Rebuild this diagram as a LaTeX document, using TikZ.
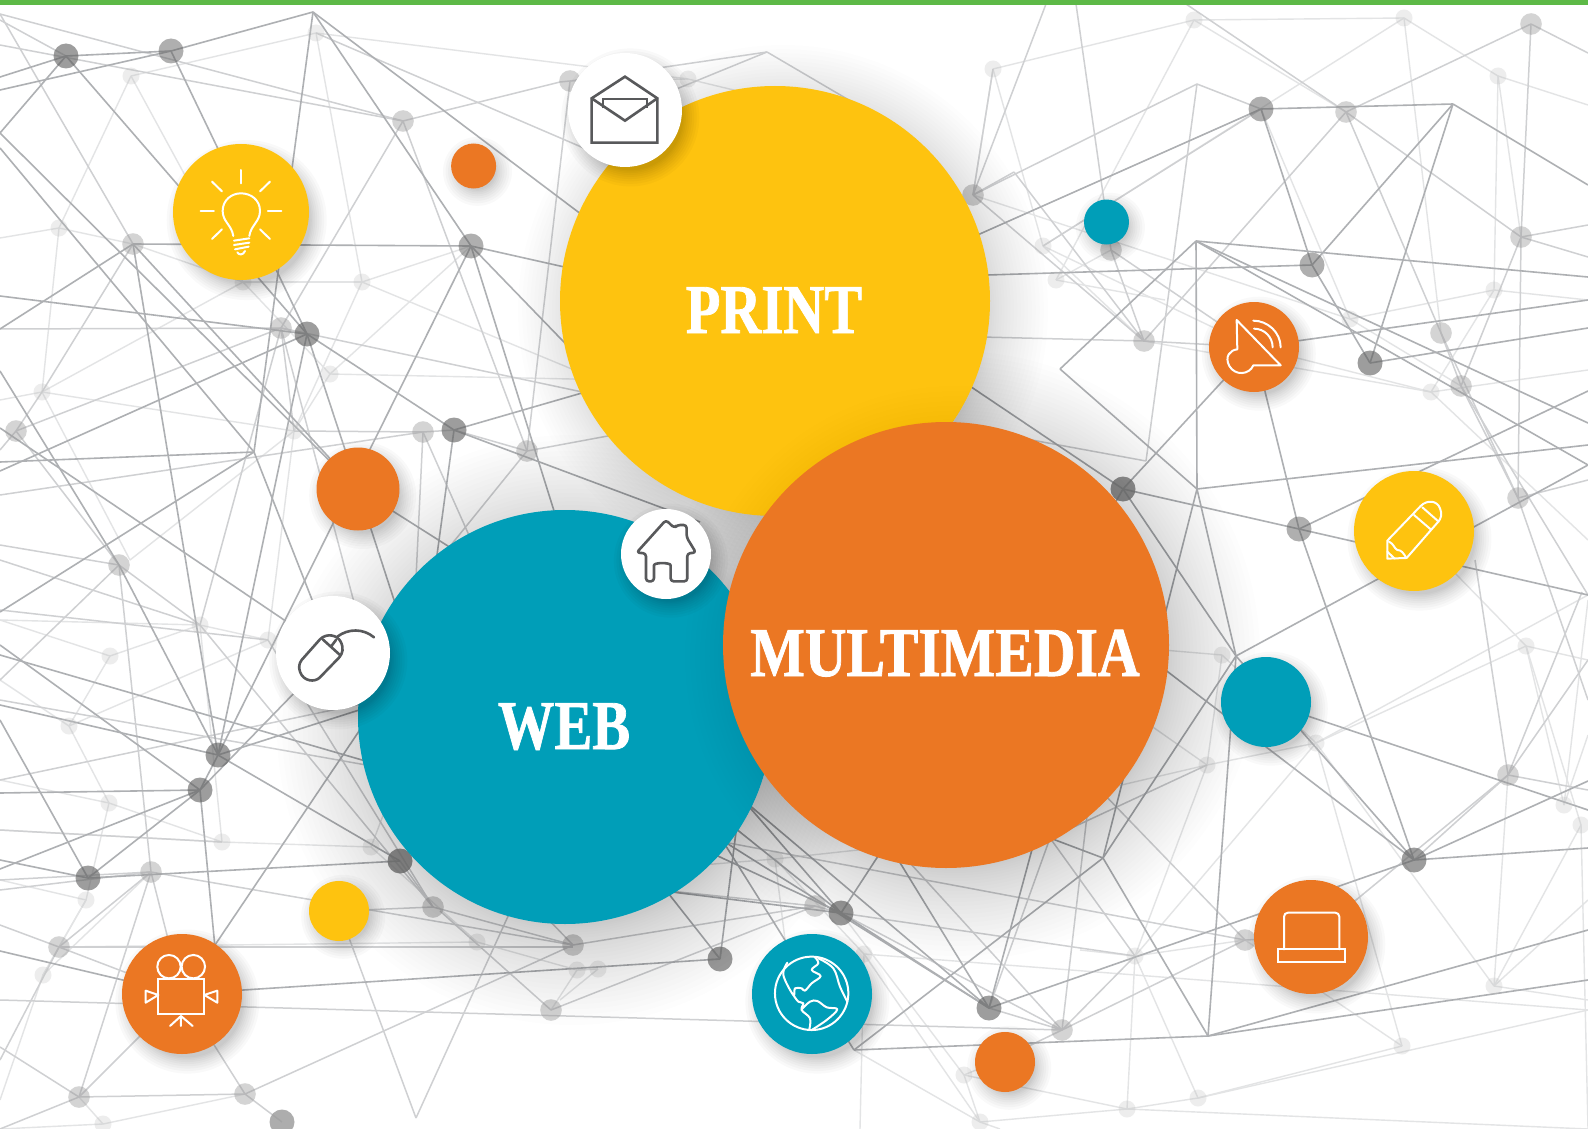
\documentclass[tikz,border=0pt]{standalone}
\usepackage{graphicx}
\usepackage{fontspec}
\setmainfont{Liberation Serif}
\newfontfamily\lblfont[BoldFont={Liberation Serif Bold},BoldFeatures={FakeBold=1.2}]{Liberation Serif}
\definecolor{cyel}{HTML}{FEC30F}
\definecolor{cora}{HTML}{EB7723}
\definecolor{ctea}{HTML}{009EB8}
\definecolor{cico}{HTML}{58595B}
\definecolor{cgrn}{HTML}{5DB947}
\definecolor{edgeD}{HTML}{AEB0B3}
\definecolor{edgeM}{HTML}{CFD0D2}
\definecolor{edgeL}{HTML}{E3E4E5}
\newcommand\softshadow[6]{%
  \foreach \i in {1,...,#5}{%
    \pgfmathsetmacro\rr{#3+#4*pow(\i/#5,1.4)}%
    \fill[black,opacity=#6] (#1,#2) circle (\rr pt);}}
\tikzset{
  bubble/.style={circle,inner sep=0pt,draw=none},
  labeltext/.style={text=white,font=\fontsize{70}{70}\lblfont\bfseries,inner sep=0pt},
  edgedark/.style={draw=edgeD,line width=1.6pt},
  edgemid/.style={draw=edgeM,line width=1.5pt},
  edgelight/.style={draw=edgeL,line width=1.4pt},
  dotdark/.style={fill=black!62,opacity=.62},
  dotmid/.style={fill=black!40,opacity=.42},
  dotlight/.style={fill=black!25,opacity=.28},
  iconw/.style={draw=white,line width=2pt,line join=round,line cap=round},
  icong/.style={draw=cico,line width=2.6pt,line join=round,line cap=round},
}
\begin{document}
\begin{tikzpicture}[x=1pt,y=-1pt]
\useasboundingbox (0,0) rectangle (1588,1129);
\fill[white] (0,0) rectangle (1588,1129);
\begin{scope}
\clip (0,0) rectangle (1588,1129);
% vertices of the network
\foreach \n/\x/\y in {
 da/66/56,db/171/51,ap/313/12,vl/133/244,dc/307/334,dd/471/246,de/454/430,vq/254/452,
 dr/218/755,ds/200/790,dt/88/878,dv/400/861,dO/841/913,dP/720/959,dQ/989/1008,dN/1414/860,
 dF/1261/109,dH/1312/265,dI/1370/363,dJ/1123/489,dK/1299/529,
 va/1453/104,vb/1196/241,vc/1060/369,vd/1197/489,ve/1236/656,vf/1103/858,vg/854/1050,vh/1208/1036,
 om/358/489,spk/1254/347,pen/1414/531,lap/1311/937,cam/182/994,mou/333/653,tl/1266/702,yel/339/911,
 e1/0/77,e2/0/90,e3/0/133,e4/0/148,e5/0/296,e6/0/329,e7/0/462,e8/0/471,e9/0/371,e10/0/428,
 e11/0/645,e12/0/655,e13/0/705,e14/0/793,e15/0/869,e16/0/720,e17/0/860,e18/0/951,e19/0/612,
 f1/1588/185,f2/1588/277,f3/1588/423,f4/1588/465,f5/1588/445,f6/1588/391,f7/1588/300,f8/1588/328,
 f9/1588/595,f10/1588/848,f11/1588/781,f12/1588/810,f13/1588/930,f14/1588/980,
 g1/610/236,g2/955/245,g3/600/275,g4/620/400,g40/1100/620,g5/560/530,g6/620/382,g7/700/522,g8/420/680,g9/470/560,
 g10/400/771,g11/400/697,g12/220/1000,g13/380/700,g15/940/366,g16/1060/600,g17/1050/838,g18/1040/820,
 g19/880/830,g20/726/780,g21/700/800,g22/640/820,g24/895/830,g25/640/888,g26/740/800,g27/650/870,
 g28/697/800,g29/658/800,g30/696/760,g31/955/276,
 m1/403/121,m3/281/328,m4/423/432,m5/527/451,m6/119/565,m7/16/431,m8/570/81,m9/973/195,m10/1144/341,
 m11/1111/250,dG/1346/112,mA/1531/24,mB/1521/237,mC/1441/333,mD/815/906,mE/1508/775,mF/1245/940,
 mG/1062/1030,mH/551/1010,mI/245/1094,mJ/79/1097,mK/59/947,mL/151/872,mM/573/945,mN/433/907,
 mP/1461/386,mQ/1518/498,mT/282/1122,
 w1/1197/84,w2/1014/172,w3/767/52,w6/1146/461,x1/416/1118,x2/520/890,
 r1/1588/53,r2/1588/225,r3/1588/257,r4/1588/480,r5/1588/790,r6/1582/592,r7/1588/700,
 t1/1183/2,t2/1046/4,t3/1076/4,
 h1/0/14,h2/560/82,h3/0/450,h4/0/545,h5/0/495,h6/414/620,h7/480/560,h8/430/571,h9/640/430,
 h11/600/155,h12/0/925,h13/573/947,h14/0/890,h15/0/1047,h16/573/945,h17/440/911,
 h18/1475/560,h19/1090/790,h20/900/335,h21/900/130,h24/950/425,h31/625/110,
 h25/0/1000,h26/0/1060,h27/0/560,h28/0/610,h29/0/700,h30/500/800,
 L1/131/76,L2/316/33,L3/59/228,L4/362/282,L5/42/392,L6/294/431,L7/330/374,L8/200/625,L9/110/656,
 L10/69/726,L11/268/640,L12/109/803,L13/222/842,L14/86/900,L15/43/975,L16/577/970,L17/598/969,
 L18/477/942,L19/371/847,L20/1194/20,L21/1404/18,L22/993/69,L23/1498/76,L24/1494/290,L25/1431/392,
 L26/1350/319,L27/1222/655,L28/1207/765,L29/1316/743,L30/1526/646,L31/1564/805,L32/1581/825,
 L33/1494/986,L34/1402/1046,L35/1198/1098,L36/1127/1109,L37/1135/956,L38/980/1122,L39/964/1075,
 L40/864/954,L41/775/859,L42/688/79,L43/103/1124,L44/1043/246,L45/1056/280,L0/243/282,
 n1/0/238,n2/0/400,n3/620/380,n4/620/389,n5/130/560,n6/190/560,n7/0/45,n8/0/20,n9/560/60,
 n10/1588/105,n11/1588/180,n12/1588/300,n13/1588/370,n14/1588/540,n15/1588/660,n16/1588/735,
 n17/1588/900,n18/1588/1000,n19/1588/1010,n20/1588/1129,n21/1163/650,n22/1100/790,n23/1080/950,
 n24/0/780,n25/0/830,n26/0/880,n27/0/1100,n28/0/1129,n29/0/620,n30/0/680,n31/1100/690,n32/1000/1060,
 n33/1178/1125,n34/860/1129,n35/1000/1129,n36/560/1000,n37/790/980,n38/950/840,n39/640/870,n40/1588/600,
 n41/1165/300}
 \coordinate (\n) at (\x,\y);
% light layer
\foreach \a/\b in {
 L2/L42,L2/L1,L2/L4,L1/L3,L1/L0,L3/n1,L3/L5,L3/vl,vl/L0,L0/L4,L4/dd,L4/n4,L4/L6,L5/n2,L5/L0,L5/L6,
 L6/L7,L7/n3,L7/L0,L6/n5,L6/L11,L7/dd,L5/n5,L8/L9,L8/L11,L8/n29,L9/n29,L9/L10,L10/n30,L10/L12,L10/L11,
 L12/n24,L12/L13,L12/L14,L13/L8,L13/L19,L13/n25,L14/n26,L14/L15,L15/n27,L15/L14,L15/mL,L43/mJ,L43/mI,
 L43/n28,L19/g10,L19/L18,L18/L16,L16/L17,L17/n36,L16/mH,L18/mK,L42/m8,L42/h21,L22/L44,L22/m9,L22/L20,
 L20/L21,L20/L45,L20/dG,L21/L23,L21/L44,L21/mC,L23/n10,L23/L24,L23/mB,L24/L26,L24/L25,L24/n12,L25/n13,
 L26/m9,L26/mP,L26/dF,L25/spk,L25/m10,L25/n14,L44/m10,L44/spk,L45/m11,L45/n41,L27/L28,L27/n21,L28/n22,
 L28/L29,L28/L37,L29/L30,L29/L33,L29/L34,L29/L37,L29/f9,L30/L31,L30/L32,L30/n15,L31/n16,L32/L33,L33/n17,
 L33/n18,L33/mE,L34/L35,L34/mF,L35/L36,L35/L37,L35/n19,L36/L38,L36/L39,L36/L37,L37/n23,L37/mF,L38/L40,
 L38/L39,L38/n35,L39/dO,L39/n32,L40/L41,L40/n19,L40/n34,L41/n38,L41/n37,L41/n39,L32/n20,L31/n40,
 L30/pen,L29/L27,L28/n31,L38/vg,L36/n20}
 \draw[edgelight] (\a)--(\b);
% middle layer
\foreach \a/\b in {
 h1/m1,m1/h2,m1/m3,m1/m5,m3/e6,m3/m7,m3/dc,m7/h3,m7/m6,m6/h4,m6/mL,m6/n30,m4/de,m4/h6,m4/h7,h5/m4,
 m5/h8,m5/h9,m5/de,m8/m5,L2/h11,m8/h2,h1/vl,vl/L5,
 n7/m1,n8/da,m3/g4,m3/g13,L5/m7,L6/m3,m3/L8,L8/m6,L8/mN,m4/L6,L11/mN,
 h27/L8,h28/L11,h29/g10,n24/g13,n26/mL,h26/mK,n25/L13,
 mK/mL,mK/h12,mK/cam,mK/h13,mL/cam,mL/h14,mL/h16,mJ/mI,mJ/mL,mJ/cam,h15/mJ,mI/cam,mI/mM,mI/mT,
 yel/x1,x1/x2,mH/mD,mH/h17,mM/mN,mN/yel,mN/dv,mM/x2,mD/dO,mD/g25,mD/h16,
 mE/h18,mE/r6,mE/dN,mE/lap,mE/r5,mF/n22,mF/mG,mF/lap,mG/h19,mG/dO,mG/n32,mG/h25,mG/dQ,mF/h30,
 t2/m9,t3/m11,t1/dG,dG/mA,mA/r1,mA/mB,dG/mB,mB/r2,mB/r3,mB/mP,dG/mC,mC/mQ,mB/mQ,mP/mQ,mP/f9,mC/mP,
 mQ/r4,mQ/r7,w1/m9,w1/w6,w6/h24,w2/m10,w2/m9,m11/m10,m9/m10,m10/dG,m10/h20,m10/spk,w3/h21,w3/h31,
 m11/spk,m9/L22,dQ/g17,w1/dF,m8/w3,dF/L44,L37/g17,L28/g17,g19/mG,L37/mG,dO/L37,mJ/n28,mE/n15}
 \draw[edgemid] (\a)--(\b);
% dark layer
\foreach \a/\b in {
 e1/da,e2/db,db/ap,da/db,da/e3,da/dc,db/dc,ap/vq,ap/dd,ap/g1,vl/dd,vl/e6,vl/dr,e3/om,e4/vq,vl/om,
 e5/dc,dc/om,dc/de,dc/dr,dc/e8,vq/e7,vq/mou,vq/e19,dd/dr,dd/g3,dd/g4,dd/g5,de/g6,de/g7,de/g8,om/g8,om/g9,
 dr/ds,dr/e13,dr/g11,dr/dv,m6/dr,e9/m6,e10/mou,e11/ds,e12/g10,ds/e14,ds/dt,ds/mou,ds/e15,ds/g12,dt/e16,dt/e17,dt/dv,
 cam/g13,e18/cam,cam/dP,
 dF/va,dF/g2,dF/dH,dH/dI,va/dH,va/dI,va/f1,dH/g31,vb/f2,vb/f3,vb/f4,vb/vc,vc/vd,vb/vd,vd/f5,dJ/dK,dJ/spk,
 spk/f7,spk/dK,dK/f6,dK/f9,dK/dN,dI/f8,f4/ve,ve/vd,vd/vf,dJ/ve,ve/vf,ve/vh,dJ/g15,dJ/g16,
 dN/f10,dN/f11,dN/dQ,dN/g40,dN/ve,tl/f12,vh/f13,vh/f14,vh/vg,vh/vf,vg/vf,vf/g17,dQ/dO,dQ/g18,dQ/g19,
 dO/g20,dO/g21,dO/g22,dO/g24,dO/g25,dP/g26,dP/g27,vg/g28,dQ/g29,dQ/g30}
 \draw[edgedark] (\a)--(\b);
% vertices drawn over the lines
\foreach \n in {L1,L2,L3,L4,L5,L6,L7,L8,L9,L10,L11,L12,L13,L14,L15,L16,L17,L18,L19,L20,L21,L22,L23,L24,L25,L26,
 L27,L28,L29,L30,L31,L32,L33,L34,L35,L36,L37,L38,L39,L40,L41,L42,L43,L44,L45,L0}
 \fill[dotlight] (\n) circle (8.5pt);
\foreach \n in {vl,m1,m3,m4,m5,m6,m7,m8,m9,m10,m11,dG,mA,mB,mC,mD,mE,mF,mG,mH,mI,mJ,mK,mL,mM,mN,mP,mQ}
 \fill[dotmid] (\n) circle (10.8pt);
\fill[black!40,opacity=.8] (mT) circle (12.5pt);
\foreach \n in {da,dc,de,dr,ds,dt,dv,dO,dP,dQ,dN,dI,dJ}
 \fill[dotdark] (\n) circle (12.5pt);
\foreach \n in {db,dd,dF,dH,dK}
 \fill[dotdark,opacity=.5] (\n) circle (12.5pt);
\end{scope}
% top bar
\fill[cgrn] (0,0) rectangle (1588,5);
% large circles: ground shadows first
\softshadow{783}{310}{205}{60}{20}{.006}
\softshadow{572}{730}{195}{100}{26}{.0075}
\softshadow{955}{656}{210}{95}{26}{.0075}
\node[bubble,fill=cyel,minimum size=430pt] (print) at (775,301) {};
\node[labeltext,anchor=center,text height=46pt,text depth=0pt] (printlabel) at (774,310) {\scalebox{.81}[1]{PRINT}};
\node[bubble,fill=ctea,minimum size=414pt] (web) at (565,717) {};
\node[labeltext,anchor=center,text height=46pt,text depth=0pt] (weblabel) at (564,726) {\scalebox{.81}[1]{WEB}};
% faint shadow of the orange circle on the other two
\begin{scope}
\clip (775,301) circle (215pt) (565,717) circle (207pt);
\softshadow{955}{656}{210}{60}{16}{.005}
\end{scope}
\node[bubble,fill=cora,minimum size=446pt] (multi) at (946,645) {};
\node[labeltext,anchor=center,text height=46pt,text depth=0pt] (multilabel) at (945,653) {\scalebox{.825}[1]{MULTIMEDIA}};
% small circles
\foreach \x/\y/\r in {473.6/166/22.5,1106.5/222/22.5,358/489/41.5,1266/702/45,339/911/30,1005/1062/30,
 241/212/68,625/110/57,1254/347/45,1414/531/60,666/554/45,333/653/57,182/994/60,812/994/60,1311/937/57}{
  \pgfmathsetmacro\sx{\x+3+\r*.04}\pgfmathsetmacro\sy{\y+4+\r*.06}
  \pgfmathsetmacro\sr{\r-5}
  \softshadow{\sx}{\sy}{\sr}{17}{9}{.022}}
\node[bubble,fill=cora,minimum size=45pt] (dotorange) at (473.6,166) {};
\node[bubble,fill=ctea,minimum size=45pt] (dotteal) at (1106.5,222) {};
\node[bubble,fill=cora,minimum size=83pt] (orangemid) at (358,489) {};
\node[bubble,fill=ctea,minimum size=90pt] (tealmid) at (1266,702) {};
\node[bubble,fill=cyel,minimum size=60pt] (yellowdot) at (339,911) {};
\node[bubble,fill=cora,minimum size=60pt] (orangelow) at (1005,1062) {};
\node[bubble,fill=cyel,minimum size=136pt] (bulbbg) at (241,212) {};
\node[bubble,fill=white,minimum size=114pt] (mailbg) at (625,110) {};
\node[bubble,fill=cora,minimum size=90pt] (speakerbg) at (1254,347) {};
\node[bubble,fill=cyel,minimum size=120pt] (pencilbg) at (1414,531) {};
\node[bubble,fill=white,minimum size=90pt] (homebg) at (666,554) {};
\node[bubble,fill=white,minimum size=114pt] (mousebg) at (333,653) {};
\node[bubble,fill=cora,minimum size=120pt] (camerabg) at (182,994) {};
\node[bubble,fill=ctea,minimum size=120pt] (globebg) at (812,994) {};
\node[bubble,fill=cora,minimum size=114pt] (laptopbg) at (1311,937) {};
% mail
\begin{scope}[shift={(540,30)},x=.3333pt,y=-.3333pt]
\draw[icong,line cap=butt,line join=miter] (155,338)--(155,205)--(255,140)--(352,205)--(352,338)--cycle;
\draw[icong,line join=miter] (155,205)--(255,272)--(352,205);
\draw[icong,line width=2.2pt,line join=miter,line cap=butt] (188,235)--(188,208)--(320,208)--(320,235);
\end{scope}
% bulb
\begin{scope}[shift={(150,130)},x=.3333pt,y=-.3333pt]
\foreach \a/\b/\c/\d in {273/120/273/160,186/155/216/184,360/155/330/184,152/242/192/242,354/242/394/242,186/327/216/298,360/327/330/298}
 \draw[iconw] (\a,\b)--(\c,\d);
\draw[iconw] (250,318) .. controls (245,285) and (218,275) .. (218,243) .. controls (218,210) and (245,190) .. (273,190) .. controls (303,190) and (330,210) .. (330,243) .. controls (330,275) and (303,285) .. (298,318);
\draw[iconw] (252,332)--(298,325) (252,345)--(298,338) (255,358)--(296,350);
\draw[iconw] (262,367) .. controls (266,376) and (280,376) .. (285,363);
\end{scope}
% speaker and pencil
\begin{scope}[shift={(1190,290)},x=.3333pt,y=-.3333pt]
\draw[iconw] (140,90)--(272,226)--(190,226) .. controls (178,255) and (135,258) .. (118,228) .. controls (103,200) and (120,180) .. (142,178) -- cycle;
\draw[iconw] (190,92) .. controls (234,92) and (272,128) .. (272,172);
\draw[iconw] (192,116) .. controls (223,116) and (248,141) .. (248,172);
\draw[iconw] (592,806)--(592,752)--(692,648) .. controls (712,628) and (742,632) .. (750,655) .. controls (758,672) and (752,688) .. (745,695) -- (650,804)--cycle;
\draw[iconw] (697,652)--(746,695) (672,675)--(722,718);
\draw[iconw] (597,755) .. controls (612,762) and (612,775) .. (622,780) .. controls (635,780) and (640,790) .. (648,802);
\draw[iconw] (592,785)--(614,806);
\end{scope}
% home and mouse
\begin{scope}[shift={(260,500)},x=.3333pt,y=-.3333pt]
\draw[icong,rounded corners=3pt] (1130,158)--(1218,60)--(1243,84)--(1252,75)--(1280,75)--(1280,112)--(1308,158)--(1282,160)--(1282,244)--(1232,244)--(1232,205) .. controls (1232,187) and (1182,187) .. (1182,205) -- (1182,244)--(1158,244)--(1158,160)--cycle;
\draw[icong] (125,480) -- (180,418) .. controls (200,398) and (232,405) .. (242,425) .. controls (252,445) and (248,460) .. (238,472) -- (180,532) .. controls (165,548) and (130,545) .. (120,515) .. controls (115,500) and (118,490) .. (125,480) -- cycle;
\draw[icong] (188,418)--(240,465) (213,440)--(228,420);
\draw[icong] (232,410) .. controls (265,385) and (310,385) .. (342,412);
\end{scope}
% camera
\begin{scope}[shift={(100,920)},x=.3333pt,y=-.3333pt]
\draw[iconw] (207,140) circle (11.7pt) (280,140) circle (11.7pt);
\draw[iconw,line join=miter] (175,178) rectangle (313,283);
\draw[iconw] (175,225)--(137,212)--(137,248)--cycle (313,225)--(352,212)--(352,248)--cycle;
\draw[iconw] (243,288)--(243,318) (243,288)--(210,318) (243,288)--(278,318);
\end{scope}
% globe
\begin{scope}[shift={(730,920)},x=.3333pt,y=-.3333pt]
\draw[iconw] (245,220) circle (36.7pt);
\draw[iconw] plot[smooth,tension=.6] coordinates {(172,128) (160,165) (190,225) (195,205) (215,205) (225,212) (245,190) (272,168) (245,150) (265,130) (255,112)};
\draw[iconw] plot[smooth,tension=.6] coordinates {(190,225) (205,245) (220,250) (215,270) (240,295) (238,328)};
\draw[iconw] plot[smooth,tension=.6] coordinates {(215,268) (240,245) (262,243) (290,262) (322,268) (290,300) (245,330)};
\draw[iconw] plot[smooth,tension=.6] coordinates {(265,115) (310,145) (330,200) (352,245)};
\end{scope}
% laptop
\begin{scope}[shift={(1240,870)},x=.3333pt,y=-.3333pt]
\draw[iconw,rounded corners=4pt] (132,238)--(132,128)--(298,128)--(298,238);
\draw[iconw,line join=miter] (115,238) rectangle (315,275);
\end{scope}
\end{tikzpicture}
\end{document}
